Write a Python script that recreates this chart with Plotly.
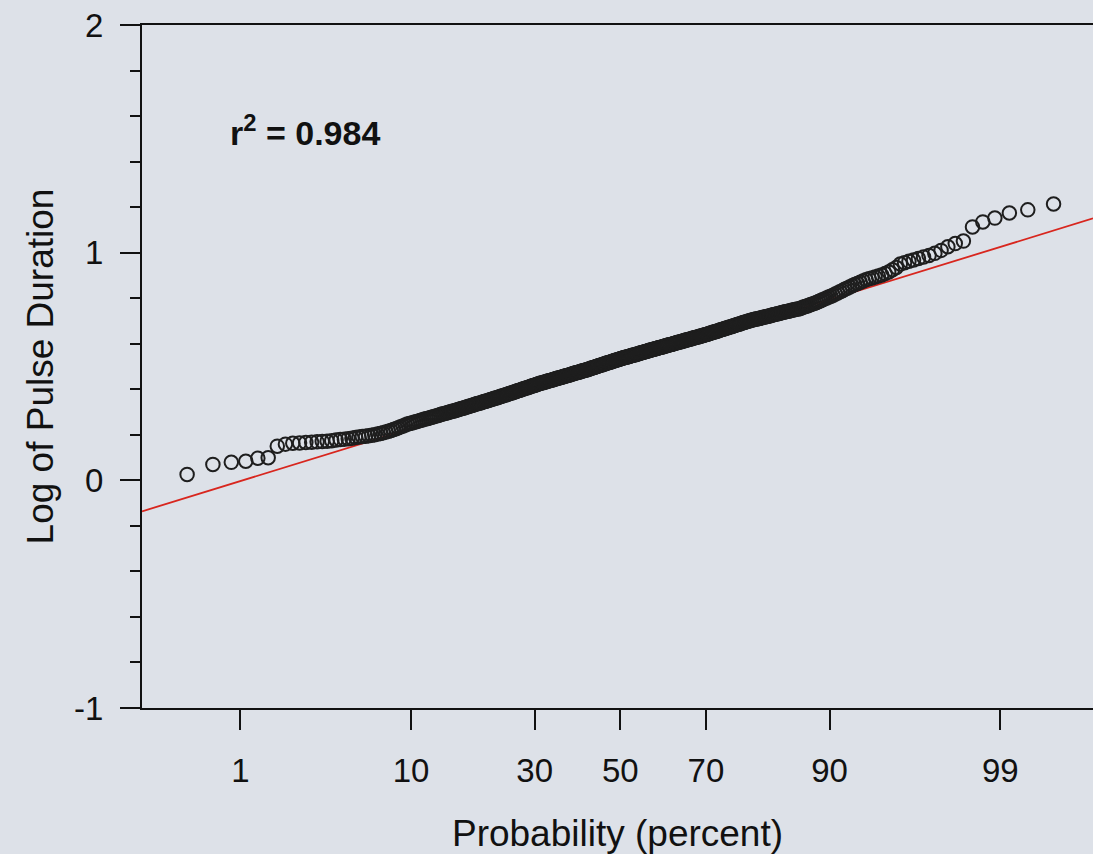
from statistics import NormalDist
import plotly.graph_objects as go

# ---- data (sorted log pulse durations) ----
log_duration = [
    0.026, 0.070, 0.079, 0.084, 0.097, 0.099, 0.150, 0.159, 0.163,
    0.164, 0.166,
    0.167, 0.169, 0.171,
    0.172, 0.174, 0.177, 0.179,
    0.181, 0.183, 0.185, 0.188, 0.190,
    0.192, 0.194, 0.196, 0.198, 0.200,
    0.203, 0.206, 0.209, 0.212, 0.216, 0.219,
    0.223, 0.227, 0.231, 0.235, 0.239, 0.243, 0.247,
    0.250, 0.252, 0.255, 0.257, 0.260, 0.263, 0.265, 0.268,
    0.270, 0.272, 0.275, 0.277, 0.279, 0.282, 0.284, 0.286, 0.289,
    0.291, 0.293, 0.295, 0.297, 0.299, 0.301, 0.303, 0.305, 0.307, 0.309,
    0.311, 0.313, 0.315, 0.317, 0.319, 0.321, 0.323, 0.325, 0.327, 0.329, 0.331,
    0.333, 0.335, 0.337, 0.338, 0.340, 0.342, 0.344, 0.346, 0.347, 0.349, 0.351, 0.353,
    0.355, 0.356, 0.358, 0.360, 0.362, 0.363, 0.365, 0.367, 0.369, 0.370, 0.372, 0.374, 0.376,
    0.377, 0.379, 0.381, 0.383, 0.384, 0.386, 0.388, 0.389, 0.391, 0.393, 0.395, 0.396, 0.398, 0.400,
    0.401, 0.403, 0.405, 0.406, 0.408, 0.409, 0.411, 0.413, 0.414, 0.416, 0.417, 0.419, 0.421, 0.422, 0.424,
    0.425, 0.427, 0.428, 0.429, 0.431, 0.432, 0.433, 0.435, 0.436, 0.437, 0.439, 0.440, 0.441, 0.443, 0.444,
    0.445, 0.447, 0.448, 0.449, 0.450, 0.452, 0.453, 0.454, 0.456, 0.457, 0.458, 0.459, 0.461, 0.462, 0.463, 0.465,
    0.466, 0.467, 0.469, 0.470, 0.471, 0.472, 0.474, 0.475, 0.476, 0.477, 0.479, 0.480, 0.481, 0.482, 0.484, 0.485, 0.486,
    0.487, 0.489, 0.490, 0.492, 0.493, 0.494, 0.496, 0.497, 0.499, 0.500, 0.501, 0.503, 0.504, 0.506, 0.507, 0.508, 0.510,
    0.511, 0.512, 0.514, 0.515, 0.516, 0.518, 0.519, 0.520, 0.522, 0.523, 0.524, 0.526, 0.527, 0.528, 0.530, 0.531, 0.532, 0.534,
    0.535, 0.536, 0.537, 0.539, 0.540, 0.541, 0.542, 0.543, 0.544, 0.545, 0.547, 0.548, 0.549, 0.550, 0.551, 0.552, 0.554,
    0.555, 0.556, 0.557, 0.559, 0.560, 0.561, 0.562, 0.564, 0.565, 0.566, 0.567, 0.568, 0.570, 0.571, 0.572, 0.573, 0.575,
    0.576, 0.577, 0.578, 0.579, 0.580, 0.582, 0.583, 0.584, 0.585, 0.586, 0.588, 0.589, 0.590, 0.591, 0.592, 0.594, 0.595,
    0.596, 0.597, 0.598, 0.600, 0.601, 0.602, 0.603, 0.605, 0.606, 0.607, 0.608, 0.610, 0.611, 0.612, 0.613, 0.615,
    0.616, 0.617, 0.618, 0.620, 0.621, 0.622, 0.624, 0.625, 0.626, 0.627, 0.629, 0.630, 0.631, 0.633, 0.634,
    0.635, 0.636, 0.638, 0.639, 0.641, 0.642, 0.644, 0.645, 0.647, 0.648, 0.650, 0.651, 0.653, 0.654, 0.656,
    0.657, 0.659, 0.661, 0.662, 0.664, 0.666, 0.667, 0.669, 0.670, 0.672, 0.674, 0.675, 0.677, 0.679,
    0.680, 0.682, 0.684, 0.686, 0.687, 0.689, 0.691, 0.693, 0.694, 0.696, 0.698, 0.700, 0.701,
    0.703, 0.704, 0.706, 0.707, 0.709, 0.710, 0.711, 0.713, 0.714, 0.716, 0.717, 0.719,
    0.720, 0.722, 0.723, 0.725, 0.727, 0.728, 0.730, 0.732, 0.733, 0.735, 0.737,
    0.738, 0.740, 0.742, 0.743, 0.745, 0.747, 0.748, 0.750, 0.752, 0.753,
    0.755, 0.758, 0.761, 0.764, 0.766, 0.769, 0.772, 0.775, 0.778,
    0.781, 0.785, 0.789, 0.793, 0.797, 0.801, 0.805, 0.809,
    0.813, 0.818, 0.823, 0.828, 0.833, 0.839, 0.844,
    0.849, 0.855, 0.860, 0.865, 0.870, 0.876,
    0.881, 0.885, 0.889, 0.893, 0.897,
    0.902, 0.908, 0.915, 0.925, 0.935,
    0.950, 0.956, 0.962, 0.968, 0.974, 0.981, 0.988, 0.997, 1.010, 1.026, 1.040, 1.051,
    1.113, 1.135, 1.152, 1.174, 1.188, 1.214,
]

# plotting-position offset used by the probability plot
pp_offset = 0.73

# fitted normal line (intercept = mean, slope = sd of log duration)
fit_mean = 0.511
fit_sd = 0.221
r_squared_text = "r<sup>2</sup> = 0.984"

tick_percent = [1, 10, 30, 50, 70, 90, 99]
tick_labels = ["1", "10", "30", "50", "70", "90", "99"]
y_ticks = [-1, 0, 1, 2]
y_tick_labels = ["-1", "0", "1", "2"]

x_range_percent = [0.17, 99.81]
y_range = [-1, 2]

# ---- probability (normal-score) scale ----
nd = NormalDist()
n = len(log_duration)
probs = [(i + 1 + pp_offset) / (n + 1 + 2 * pp_offset) for i in range(n)]
x_scores = [nd.inv_cdf(p) for p in probs]
tick_scores = [nd.inv_cdf(t / 100) for t in tick_percent]
x_range = [nd.inv_cdf(v / 100) for v in x_range_percent]
fit_x = x_range
fit_y = [fit_mean + fit_sd * z for z in fit_x]

BG = "#dde1e8"
FONT = "Liberation Sans, Arial, sans-serif"
INK = "#111111"

fig = go.Figure()
fig.add_trace(go.Scatter(
    x=fit_x, y=fit_y, mode="lines",
    line=dict(color="#d8261e", width=1.8),
    hoverinfo="skip", showlegend=False,
))
fig.add_trace(go.Scatter(
    x=x_scores, y=log_duration, mode="markers",
    marker=dict(symbol="circle-open", size=13.5, color="#1e1e1e",
                line=dict(width=2, color="#1e1e1e")),
    showlegend=False,
))

fig.add_annotation(
    x=0.09, y=0.845, xref="paper", yref="paper",
    text="<b>" + r_squared_text + "</b>", showarrow=False,
    xanchor="left", yanchor="middle",
    font=dict(family=FONT, size=34, color=INK),
)

fig.update_layout(
    width=1093, height=854,
    paper_bgcolor=BG, plot_bgcolor=BG,
    margin=dict(l=142, r=0, t=25, b=146),
    font=dict(family=FONT, color=INK),
    showlegend=False,
)
fig.update_xaxes(
    range=x_range, tickvals=tick_scores, ticktext=tick_labels,
    showgrid=False, zeroline=False,
    showline=True, linecolor=INK, linewidth=2, mirror=True,
    ticks="outside", ticklen=20, tickwidth=2, tickcolor=INK,
    tickfont=dict(family=FONT, size=33, color=INK),
    ticklabelstandoff=12,
    title=dict(text="Probability (percent)", font=dict(family=FONT, size=37, color=INK), standoff=34),
)
fig.update_yaxes(
    range=y_range, tickvals=y_ticks, ticktext=y_tick_labels,
    showgrid=False, zeroline=False,
    showline=True, linecolor=INK, linewidth=2, mirror=False,
    ticks="outside", ticklen=20, tickwidth=2, tickcolor=INK,
    minor=dict(dtick=0.2, ticks="outside", ticklen=10, tickwidth=2, tickcolor=INK),
    tickfont=dict(family=FONT, size=33, color=INK),
    ticklabelstandoff=10,
    title=dict(text="Log of Pulse Duration", font=dict(family=FONT, size=37, color=INK), standoff=9),
)

fig.write_html("out.html", config={"displayModeBar": False},
               post_script="document.body.style.margin='0';")
